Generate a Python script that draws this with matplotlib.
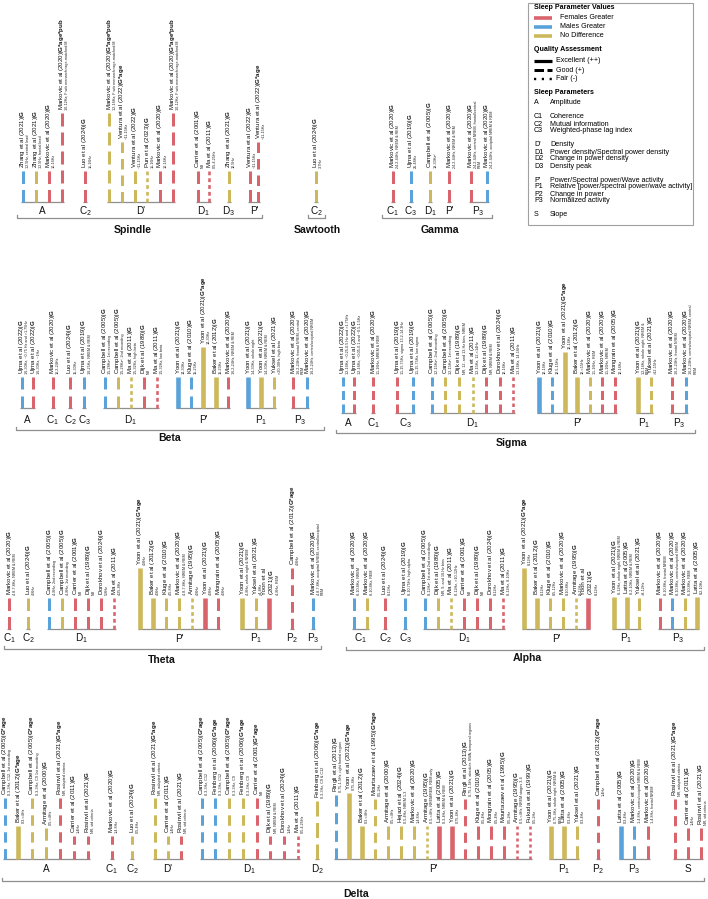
import matplotlib
matplotlib.use("Agg")
import matplotlib.pyplot as plt
from matplotlib.patches import Rectangle

plt.rcParams['font.family'] = ['Liberation Sans', 'DejaVu Sans']
plt.rcParams['mathtext.fontset'] = 'custom'
plt.rcParams['mathtext.rm'] = 'Liberation Sans'
plt.rcParams['mathtext.it'] = 'Liberation Sans:italic'
plt.rcParams['mathtext.bf'] = 'Liberation Sans:bold'
plt.rcParams['lines.scale_dashes'] = False

# ---------------- DATA ----------------
# record: (parameter group, study, model, detail, result, quality, value)
# result: F = females greater, M = males greater, N = no difference
# quality: E = excellent (++), G = good (+), F = fair (-)
spindle = [
    ('A', 'Zhang et al (2021)', 'G', '12.5Hz, central lead', 'M', 'G', 31),
    ('A', 'Zhang et al (2021)', 'G', '12.5Hz, frontal lead', 'N', 'G', 31),
    ('A', 'Markovic et al (2020)', 'G', '10-16Hz', 'F', 'G', 31),
    ('A', 'Markovic et al (2020)', 'G*age*pub', '10-12Hz; F w/o menarch>age-matched M', 'F', 'G', 89),
    ('C2', 'Luo et al (2024)', 'G', '11-16Hz', 'F', 'G', 31),
    ("D'", 'Markovic et al (2020)', 'G*age*pub', '12-16Hz; F w/o menarch>age-matched M', 'N', 'G', 89),
    ("D'", 'Ventura et al (2022)', 'G*age', '~11-15Hz', 'N', 'G', 60),
    ("D'", 'Ventura et al (2022)', 'G', '~11-15Hz', 'N', 'G', 31),
    ("D'", 'Pun et al (2023)', 'G', '11-16Hz', 'N', 'F', 31),
    ("D'", 'Markovic et al (2020)', 'G', '10-16Hz', 'F', 'G', 31),
    ("D'", 'Markovic et al (2020)', 'G*age*pub', '10-12Hz; F w/o menarch>age-matched M', 'F', 'G', 89),
    ('D1', 'Carrier et al (2001)', 'G', 'NR', 'F', 'G', 31),
    ('D1', 'Ma et al (2011)', 'G', '0.5-4.25Hz', 'F', 'F', 31),
    ('D3', 'Zhang et al (2021)', 'G', '12.5Hz', 'N', 'G', 31),
    ("P'", 'Ventura et al (2022)', 'G', '~11-15Hz', 'F', 'G', 31),
    ("P'", 'Ventura et al (2022)', 'G*age', '~11-15Hz', 'F', 'G', 60),
]

sawtooth = [
    ('C2', 'Luo et al (2024)', 'G', '3-7Hz', 'N', 'G', 31),
]

gamma = [
    ('C1', 'Markovic et al (2020)', 'G', '24.2-44Hz, NREM & REM', 'F', 'G', 31),
    ('C3', 'Ujma et al (2019)', 'G', '25-48Hz', 'M', 'G', 31),
    ('D1', 'Campbell et al (2005)', 'G', '18-30Hz²', 'N', 'G', 31),
    ("P'", 'Markovic et al (2020)', 'G', '24.2-44Hz, NREM & REM', 'F', 'G', 31),
    ('P3', 'Markovic et al (2020)', 'G', '24.2-44Hz, central NREM, frontal/central\nREM', 'F', 'G', 31),
    ('P3', 'Markovic et al (2020)', 'G', '24.2-44Hz, occipital NREM & REM', 'M', 'G', 31),
]

beta = [
    ('A', 'Ujma et al (2022)', 'G', '16-30Hz, ~0.75 Hz and >1.75Hz', 'M', 'G', 31),
    ('A', 'Ujma et al (2022)', 'G', '16-30Hz, ~1Hz', 'F', 'G', 31),
    ('C1', 'Markovic et al (2020)', 'G', '16.2-24Hz', 'F', 'G', 31),
    ('C2', 'Luo et al (2024)', 'G', '15-30Hz', 'F', 'G', 31),
    ('C3', 'Ujma et al (2019)', 'G', '16-25Hz, NREM & REM', 'M', 'G', 31),
    ('D1', 'Campbell et al (2005)', 'G', '15-28Hz², 1st recording', 'M', 'G', 31),
    ('D1', 'Campbell et al (2005)', 'G', '15-28Hz², 2nd recording', 'N', 'G', 31),
    ('D1', 'Ma et al (2011)', 'G', '15-32Hz, high beta', 'N', 'F', 31),
    ('D1', 'Dijk et al (1989)', 'G', 'NR', 'F', 'G', 31),
    ('D1', 'Ma et al (2011)', 'G', '15-32Hz, low beta', 'F', 'F', 31),
    ("P'", 'Yoon et al (2021)', 'G', '14-30Hz', 'M', 'E', 31),
    ("P'", 'Kluge et al (2010)', 'G', '15-25Hz', 'M', 'G', 31),
    ("P'", 'Yoon et al (2021)', 'G*age', '14-30Hz', 'N', 'E', 61),
    ("P'", 'Baker et al (2012)', 'G', '15-23Hz', 'N', 'E', 31),
    ("P'", 'Markovic et al (2020)', 'G', '16.2-24Hz, NREM & REM', 'F', 'G', 31),
    ('P1', 'Yoon et al (2021)', 'G', '14-30Hz, whole night', 'M', 'E', 31),
    ('P1', 'Yoon et al (2021)', 'G', '14-30Hz, NREM & REM', 'N', 'E', 31),
    ('P1', 'Yuksel et al (2021)', 'G', '>20-30Hz, high beta', 'N', 'G', 31),
    ('P3', 'Markovic et al (2020)', 'G', '16.2-24Hz, frontal NREM, central\nREM', 'F', 'G', 31),
    ('P3', 'Markovic et al (2020)', 'G', '16.2-24Hz, centro/occipital NREM', 'M', 'G', 31),
]

sigma = [
    ('A', 'Ujma et al (2022)', 'G', '12-16Hz, ~0.25-0.5 Hz and >1.75Hz', 'M', 'G', 36),
    ('A', 'Ujma et al (2022)', 'G', '12-16Hz, ~0.05-0.1 and ~0.5-1.5Hz', 'F', 'G', 36),
    ('C1', 'Markovic et al (2020)', 'G', '11-16Hz, NREM & REM', 'F', 'G', 36),
    ('C3', 'Ujma et al (2019)', 'G', '11-15.75Hz, sigma 13.2-14.3Hz', 'F', 'G', 36),
    ('C3', 'Ujma et al (2019)', 'G', '11-15.75Hz, low sigma', 'M', 'G', 36),
    ('D1', 'Campbell et al (2005)', 'G', '12-15Hz², 2nd recording', 'M', 'G', 36),
    ('D1', 'Campbell et al (2005)', 'G', '12-15Hz², 1st recording', 'N', 'G', 36),
    ('D1', 'Dijk et al (1989)', 'G', 'NR, 12- and 13-Hz bins, NREM', 'N', 'G', 36),
    ('D1', 'Ma et al (2011)', 'G', '12-15Hz, 12-<14Hz', 'N', 'F', 36),
    ('D1', 'Dijk et al (1989)', 'G', 'NR, NREM & REM', 'F', 'G', 36),
    ('D1', 'Dorokhov et al (2024)', 'G', '12-16Hz', 'F', 'G', 36),
    ('D1', 'Ma et al (2011)', 'G', '13-16Hz, 14-16Hz', 'F', 'F', 36),
    ("P'", 'Yoon et al (2021)', 'G', '12-14Hz', 'M', 'E', 36),
    ("P'", 'Kluge et al (2010)', 'G', '12.5-15Hz', 'M', 'G', 36),
    ("P'", 'Yoon et al (2021)', 'G*age', '12-14Hz', 'N', 'E', 61),
    ("P'", 'Baker et al (2012)', 'G', '12-<15Hz', 'N', 'E', 36),
    ("P'", 'Markovic et al (2020)', 'G', '11-16Hz, REM', 'N', 'G', 36),
    ("P'", 'Markovic et al (2020)', 'G', '11-16Hz, NREM', 'F', 'G', 36),
    ("P'", 'Mongrain et al (2005)', 'G', '12-16Hz', 'F', 'G', 36),
    ('P1', 'Yoon et al (2021)', 'G', '12-14Hz, whole night, NREM &\nREM', 'N', 'E', 36),
    ('P1', 'Yuksel et al (2021)', 'G', '>12-15Hz', 'N', 'G', 36),
    ('P3', 'Markovic et al (2020)', 'G', '16.2-24Hz, frontal NREM', 'F', 'G', 36),
    ('P3', 'Markovic et al (2020)', 'G', '16.2-24Hz, centro/occipital NREM, central\nREM', 'M', 'G', 36),
]

theta = [
    ('C1', 'Markovic et al (2020)', 'G', '4.8-7.8Hz, NREM & REM', 'F', 'G', 31),
    ('C2', 'Luo et al (2024)', 'G', '4-8Hz', 'N', 'G', 31),
    ('D1', 'Campbell et al (2005)', 'G', '4-8Hz, 2nd recording', 'M', 'G', 31),
    ('D1', 'Campbell et al (2005)', 'G', '4-8Hz, 1st recording', 'N', 'G', 31),
    ('D1', 'Carrier et al (2001)', 'G', 'NR', 'F', 'G', 31),
    ('D1', 'Dijk et al (1989)', 'G', 'NR', 'F', 'G', 31),
    ('D1', 'Dorokhov et al (2024)', 'G', '5-8Hz', 'F', 'G', 31),
    ('D1', 'Ma et al (2011)', 'G', '4.25-8Hz', 'F', 'F', 31),
    ("P'", 'Yoon et al (2021)', 'G*age', '4-8Hz', 'N', 'E', 61),
    ("P'", 'Baker et al (2012)', 'G', '4-8Hz', 'N', 'E', 31),
    ("P'", 'Kluge et al (2010)', 'G', '4.5-8Hz', 'N', 'G', 31),
    ("P'", 'Markovic et al (2020)', 'G', '4.8-7.8Hz, NREM & REM', 'N', 'G', 31),
    ("P'", 'Armitage (1995)', 'G', '4-8Hz', 'N', 'F', 31),
    ("P'", 'Yoon et al (2021)', 'G', '4-8Hz', 'F', 'E', 31),
    ("P'", 'Mongrain et al (2005)', 'G', '4-8Hz', 'F', 'G', 31),
    ('P1', 'Yoon et al (2021)', 'G', '4-8Hz, whole night & NREM', 'N', 'E', 31),
    ('P1', 'Yuksel et al (2021)', 'G', '>4-8Hz', 'N', 'G', 31),
    ('P1', 'Yoon et al\n(2021)', 'G', '4-8Hz, REM', 'F', 'E', 31),
    ('P2', 'Campbell et al (2012)', 'G*age', '4-8Hz', 'F', 'G', 61),
    ('P3', 'Markovic et al (2020)', 'G', '4.8-7.8Hz, occipital NREM, central/occipital\nREM', 'M', 'G', 31),
]

alpha = [
    ('C1', 'Markovic et al (2020)', 'G', '8-10.8Hz, NREM', 'M', 'G', 31),
    ('C1', 'Markovic et al (2020)', 'G', '8-10.8Hz, REM', 'N', 'G', 31),
    ('C2', 'Luo et al (2024)', 'G', '8-13Hz', 'F', 'G', 31),
    ('C3', 'Ujma et al (2019)', 'G', '8-10.75Hz, high alpha', 'M', 'G', 31),
    ('D1', 'Campbell et al (2005)', 'G', '8-12Hz², 1st and 2nd recordings', 'M', 'G', 31),
    ('D1', 'Dijk et al (1989)', 'G', 'NR, 9- and 10-Hz bins', 'N', 'G', 31),
    ('D1', 'Ma et al (2011)', 'G', '8-12Hz, >10-12Hz', 'N', 'F', 31),
    ('D1', 'Carrier et al (2001)', 'G', 'NR', 'F', 'G', 31),
    ('D1', 'Dijk et al (1989)', 'G', 'NR', 'F', 'G', 31),
    ('D1', 'Dorokhov et al (2024)', 'G', '8-12Hz', 'F', 'G', 31),
    ('D1', 'Ma et al (2011)', 'G', '8-12Hz, 8-10Hz', 'F', 'F', 31),
    ("P'", 'Yoon et al (2021)', 'G*age', '8-12Hz', 'N', 'E', 61),
    ("P'", 'Baker et al (2012)', 'G', '8-12Hz', 'N', 'E', 31),
    ("P'", 'Kluge et al (2010)', 'G', '8.5-12Hz', 'N', 'G', 31),
    ("P'", 'Markovic et al (2020)', 'G', '8-10.8Hz', 'N', 'G', 31),
    ("P'", 'Armitage (1995)', 'G', '8<12Hz', 'N', 'F', 31),
    ("P'", 'Yoon et al\n(2021)', 'G', '8-12Hz', 'F', 'E', 31),
    ('P1', 'Yoon et al (2021)', 'G', '8-12Hz, whole night, NREM & REM', 'N', 'E', 32),
    ('P1', 'Latta et al (2005)', 'G', '8.2-10Hz, NREM & REM', 'N', 'E', 32),
    ('P1', 'Yuksel et al (2021)', 'G', '>8-12Hz', 'N', 'G', 31),
    ('P3', 'Markovic et al (2020)', 'G', '8-10.8Hz, frontal NREM', 'F', 'G', 31),
    ('P3', 'Markovic et al (2020)', 'G', '8-10.8Hz, centro/occipital NREM', 'M', 'G', 31),
    ('P3', 'Markovic et al (2020)', 'G', '8-10.8Hz, REM', 'N', 'G', 31),
    ('P3', 'Latta et al (2005)', 'G', '8.2-10Hz', 'N', 'E', 32),
]

delta = [
    ('A', 'Campbell et al (2005)', 'G*age', '0.3-3Hz, C12, 1st recording', 'M', 'G', 61),
    ('A', 'Baker et al (2012)', 'G*age', '0.3-<4Hz', 'N', 'E', 33),
    ('A', 'Campbell et al (2005)', 'G*age', '0.3-3Hz, C9 1st recording', 'N', 'G', 61),
    ('A', 'Armitage et al (2000)', 'G', '0.5-<4Hz', 'N', 'G', 31),
    ('A', 'Rosinvil et al (2021)', 'G*age', 'NR, adapted criteria', 'F', 'G', 61),
    ('A', 'Carrier et al (2011)', 'G', '1-4Hz', 'F', 'G', 23),
    ('A', 'Rosinvil et al (2021)', 'G', 'NR, std criteria', 'F', 'G', 23),
    ('C1', 'Markovic et al (2020)', 'G', '1-4.8Hz', 'F', 'G', 23),
    ('C2', 'Luo et al (2024)', 'G', '0.5-4Hz', 'N', 'G', 23),
    ("D'", 'Rosinvil et al (2021)', 'G*age', 'NR, adapted criteria', 'N', 'G', 61),
    ("D'", 'Carrier et al (2011)', 'G', '1-4Hz', 'N', 'G', 23),
    ("D'", 'Rosinvil et al (2021)', 'G', 'NR, std criteria', 'F', 'G', 23),
    ('D1', 'Campbell et al (2005)', 'G*age', '0.3-3Hz, C12', 'M', 'G', 61),
    ('D1', 'Feinberg et al (2006)', 'G*age', '0.3-3Hz, C12', 'M', 'G', 61),
    ('D1', 'Campbell et al (2005)', 'G*age', '0.3-3Hz, C9', 'N', 'G', 61),
    ('D1', 'Feinberg et al (2006)', 'G*age', '0.3-3Hz, C9', 'N', 'G', 61),
    ('D1', 'Carrier et al (2001)', 'G*age', 'NR', 'F', 'G', 61),
    ('D1', 'Dijk et al (1989)', 'G', 'NR, NREM & REM', 'F', 'G', 23),
    ('D1', 'Dorokhov et al (2024)', 'G', '1-4Hz', 'F', 'G', 23),
    ('D1', 'Ma et al (2011)', 'G', '0.5-4.25Hz', 'F', 'F', 23),
    ('D2', 'Feinberg et al (2006)', 'G*age', '0.3-3Hz, C9 & C12', 'N', 'G', 58),
    ("P'", 'Ringli et al (2013)', 'G', '0.75-1.5Hz, right frontal region', 'M', 'G', 64),
    ("P'", 'Yoon et al (2021)', 'G*age', '0.75-4Hz', 'N', 'E', 66),
    ("P'", 'Baker et al (2012)', 'G', '0.3-<4Hz', 'N', 'E', 33),
    ("P'", 'Mourtazaev et al (1995)', 'G*age', '0.5-2Hz', 'N', 'G', 60),
    ("P'", 'Armitage et al (2000)', 'G', '0.5-<4Hz', 'N', 'G', 33),
    ("P'", 'Hejazi et al (2024)', 'G', '0.5-4Hz, NREM 1-3', 'N', 'G', 33),
    ("P'", 'Markovic et al (2020)', 'G', '1-4.8Hz', 'N', 'G', 33),
    ("P'", 'Armitage (1995)', 'G', '0.5-<4Hz, NREM/REM, REM only', 'N', 'F', 33),
    ("P'", 'Latta et al (2005)', 'G', '0.3-4Hz, NREM & REM', 'F', 'E', 33),
    ("P'", 'Yoon et al (2021)', 'G', '0.75-4Hz', 'F', 'E', 33),
    ("P'", 'Ringli et al (2013)', 'G', '0.75-1.5Hz, absolute SWA, temporal regions', 'F', 'G', 60),
    ("P'", 'Kluge et al (2010)', 'G', '0.5-4Hz', 'F', 'G', 33),
    ("P'", 'Mongrain et al (2005)', 'G', '0.5-4Hz', 'F', 'G', 33),
    ("P'", 'Mourtazaev et al (1995)', 'G', '0.5-2Hz', 'F', 'G', 33),
    ("P'", 'Armitage (1995)', 'G', '0.5-<4Hz, NREM stages 3-4', 'F', 'F', 33),
    ("P'", 'Fukuda et al (1999)', 'G', '0.5-2Hz', 'F', 'F', 33),
    ('P1', 'Yoon et al (2021)', 'G', '0.75-4Hz, whole night, NREM &\nREM', 'N', 'E', 33),
    ('P1', 'Latta et al (2005)', 'G', '0.3-4Hz', 'N', 'E', 33),
    ('P1', 'Yuksel et al (2021)', 'G', '0.3-4Hz', 'N', 'G', 33),
    ('P2', 'Campbell et al (2012)', 'G*age', '1-4Hz', 'F', 'G', 60),
    ('P3', 'Latta et al (2005)', 'G', '0.3-4Hz', 'M', 'E', 33),
    ('P3', 'Markovic et al (2020)', 'G', '1-4.8Hz, centro/occipital NREM & REM', 'M', 'G', 33),
    ('P3', 'Markovic et al (2020)', 'G', '1-4.8Hz, frontal NREM', 'F', 'G', 33),
    ('S', 'Rosinvil et al (2021)', 'G*age', 'NR, adapted criteria', 'F', 'G', 60),
    ('S', 'Carrier et al (2011)', 'G', '1-4Hz', 'F', 'G', 31),
    ('S', 'Rosinvil et al (2021)', 'G', 'NR, std criteria', 'F', 'G', 31),
]

# legend content
value_labels = ['Females Greater', 'Males Greater', 'No Difference']
value_codes = ['F', 'M', 'N']
quality_labels = ['Excellent (++)', 'Good (+)', 'Fair (-)']
param_codes = [['A'], ['C1', 'C2', 'C3'], ["D'", 'D1', 'D2', 'D3'],
               ["P'", 'P1', 'P2', 'P3'], ['S']]
param_names = [['Amplitude'],
               ['Coherence', 'Mutual information', 'Weighted-phase lag index'],
               ['Density', 'Power density/Spectral power density',
                'Change in power density', 'Density peak'],
               ['Power/Spectral power/Wave activity',
                'Relative [power/spectral power/wave activity]',
                'Change in power', 'Normalized activity'],
               ['Slope']]

# ---------------- LAYOUT (pixel canvas) ----------------
COLORS = {'F': '#D9646C', 'M': '#5AA3DA', 'N': '#CDB85C'}
LINE_GREY = '#8f8f8f'

LAYOUT = [
    dict(name='Spindle', data=spindle, base=202, dash=(12.5, 6), lab_y=211,
         groups={'A': (22.7, 13), 'C2': (85, 0), "D'": (109.3, 12.7),
                 'D1': (197.7, 11.5), 'D3': (228.7, 0), "P'": (250, 8.3)},
         bracket=(17, 262, 218), title=(133, 230)),
    dict(name='Sawtooth', data=sawtooth, base=202, dash=(12.5, 6), lab_y=211,
         groups={'C2': (316, 0)}, bracket=(308, 325, 218), title=(317, 230)),
    dict(name='Gamma', data=gamma, base=202, dash=(12.5, 6), lab_y=211,
         groups={'C1': (392.7, 0), 'C3': (410.7, 0), 'D1': (430, 0),
                 "P'": (449.3, 0), 'P3': (470.7, 16)},
         bracket=(382, 492, 218), title=(440, 230)),
    dict(name='Beta', data=beta, base=408, dash=(12, 7), lab_y=420,
         groups={'A': (21.7, 11.6), 'C1': (52.7, 0), 'C2': (70, 0), 'C3': (84, 0),
                 'D1': (105, 12.9), "P'": (178.3, 12.5), 'P1': (248.3, 13),
                 'P3': (293.3, 14)},
         bracket=(16, 324, 430), title=(170, 438)),
    dict(name='Sigma', data=sigma, base=412.7, dash=(9, 4.5), lab_y=423,
         groups={'A': (342.7, 11.6), 'C1': (373.3, 0), 'C3': (397.3, 15.4),
                 'D1': (431.7, 13.6), "P'": (539.3, 12.6), 'P1': (638.3, 12.4),
                 'P3': (671.7, 14.3)},
         bracket=(336, 695, 433), title=(512, 443)),
    dict(name='Theta', data=theta, base=629.3, dash=(12.5, 6), lab_y=638.5,
         groups={'C1': (9.3, 0), 'C2': (28.3, 0), 'D1': (49.3, 13),
                 "P'": (140, 13.05), 'P1': (242.3, 13.5), 'P2': (292.3, 0),
                 'P3': (313.3, 0)},
         bracket=(4, 321, 649), title=(162, 660)),
    dict(name='Alpha', data=alpha, base=629.3, dash=(12.5, 6), lab_y=638.5,
         groups={'C1': (353.5, 13.2), 'C2': (385, 0), 'C3': (405, 0),
                 'D1': (425, 13.05), "P'": (524.3, 12.8), 'P1': (614.3, 12.35),
                 'P3': (660, 12.25)},
         bracket=(346, 704, 650), title=(527, 658)),
    dict(name='Delta', data=delta, base=859.3, dash=(12.5, 6.5), lab_y=869.5,
         groups={'A': (4.5, 13.85), 'C1': (111.7, 0), 'C2': (132.3, 0),
                 "D'": (155, 12.85), 'D1': (201.7, 13.7), 'D2': (317.3, 0),
                 "P'": (336, 12.93), 'P1': (551, 13.15), 'P2': (598.3, 0),
                 'P3': (620.7, 13.5), 'S': (675, 12.85)},
         bracket=(2, 704, 880.5), title=(356, 894)),
]

PT = 0.72  # points per pixel at dpi 100
MAIN_FS = 4.4
SUB_FS = 2.7
GROUP_FS = 7.2
TITLE_FS = 7.6
LINE_PX = MAIN_FS / PT  # approx line pitch of the rotated main label

fig = plt.figure(figsize=(7.08, 8.99), dpi=100)
ax = fig.add_axes([0, 0, 1, 1])
ax.set_xlim(0, 708)
ax.set_ylim(899, 0)
ax.axis('off')


def group_text(code):
    if len(code) == 2 and code[1].isdigit():
        return code[0] + '$_{' + code[1] + '}$'
    return code


def draw_bar(x, base, h, color, quality, dash):
    if quality == 'E':
        ax.plot([x, x], [base, base - h], color=color, lw=4.6 * PT,
                solid_capstyle='butt')
        return
    if quality == 'F':
        on, off, lw = 3.4, 3.0, 2.6
    else:
        on, off = dash
        lw = 3.0
    n = max(1, round((h + off) / (on + off)))
    seg = (h - (n - 1) * off) / n
    ax.plot([x, x], [base, base - h], color=color, lw=lw * PT,
            dashes=[seg * PT, off * PT], dash_capstyle='butt')


def draw_label(x, top, study, model, detail):
    y = top - 3
    bold = model.replace('*', '{*}')
    main = study + '|$\\mathbf{' + bold + '}$'
    nlines = study.count('\n') + 1
    ax.text(x - 0.2, y, main, rotation=90, ha='center', va='bottom',
            fontsize=MAIN_FS, multialignment='left', color='#111111',
            linespacing=1.0)
    ax.text(x + 3.3 + 0.5 * LINE_PX * (nlines - 1), y, detail, rotation=90,
            ha='left', va='bottom', fontsize=SUB_FS, multialignment='left',
            color='#222222', linespacing=1.0)


for panel in LAYOUT:
    base = panel['base']
    order = []
    for rec in panel['data']:
        if rec[0] not in order:
            order.append(rec[0])
    for g in order:
        recs = [r for r in panel['data'] if r[0] == g]
        x0, pitch = panel['groups'][g]
        xs = [x0 + i * pitch for i in range(len(recs))]
        for x, (grp, study, model, detail, res, qual, val) in zip(xs, recs):
            draw_bar(x, base, val, COLORS[res], qual, panel['dash'])
            draw_label(x, base - val, study, model, detail)
        ax.plot([xs[0] - 2, xs[-1] + 2], [base, base], color=LINE_GREY,
                lw=0.9, solid_capstyle='butt', zorder=0)
        ax.text((xs[0] + xs[-1]) / 2, panel['lab_y'], group_text(g),
                ha='center', va='center', fontsize=GROUP_FS, color='#111111')
    bx0, bx1, by = panel['bracket']
    ax.plot([bx0, bx0, bx1, bx1], [by - 3, by, by, by - 3], color=LINE_GREY,
            lw=0.9)
    tx, ty = panel['title']
    ax.text(tx, ty, panel['name'], ha='center', va='center',
            fontsize=TITLE_FS, fontweight='bold', color='#111111')

# ---------------- LEGEND ----------------
LX0, LX1, LY0, LY1 = 528, 693, 3, 225
ax.add_patch(Rectangle((LX0, LY0), LX1 - LX0, LY1 - LY0, fill=False,
                       edgecolor='#a0a0a0', lw=0.8))
LEG_FS = 5.1
ax.text(534, 7.5, 'Sleep Parameter Values', fontsize=LEG_FS, fontweight='bold',
        va='center', ha='left')
for i, (lab, code) in enumerate(zip(value_labels, value_codes)):
    y = 17.5 + 9.1 * i
    ax.plot([534, 552], [y, y], color=COLORS[code], lw=3.6 * PT,
            solid_capstyle='butt')
    ax.text(560, y, lab, fontsize=LEG_FS, va='center', ha='left')
ax.text(534, 49.7, 'Quality Assessment', fontsize=LEG_FS, fontweight='bold',
        va='center', ha='left')
qstyles = [None, [9.5 * PT, 3.5 * PT], [2.2 * PT, 5.6 * PT]]
for i, (lab, st) in enumerate(zip(quality_labels, qstyles)):
    y = 61 + 9 * i
    if st is None:
        ax.plot([534, 552], [y, y], color='black', lw=3.2 * PT,
                solid_capstyle='butt')
    else:
        ax.plot([534, 552], [y, y], color='black',
                lw=3.0 * PT if i == 1 else 2.4 * PT,
                dashes=st, dash_capstyle='butt')
    ax.text(556, y, lab, fontsize=LEG_FS, va='center', ha='left')
ax.text(534, 92.7, 'Sleep Parameters', fontsize=LEG_FS, fontweight='bold',
        va='center', ha='left')
row = 0
for gi, (codes, names) in enumerate(zip(param_codes, param_names)):
    for code, name in zip(codes, names):
        y = 103 + 7 * row + 7 * gi
        ax.text(534, y, code, fontsize=LEG_FS, va='center', ha='left')
        ax.text(550, y, name, fontsize=LEG_FS, va='center', ha='left')
        row += 1

fig.savefig('out.png', dpi=100)
